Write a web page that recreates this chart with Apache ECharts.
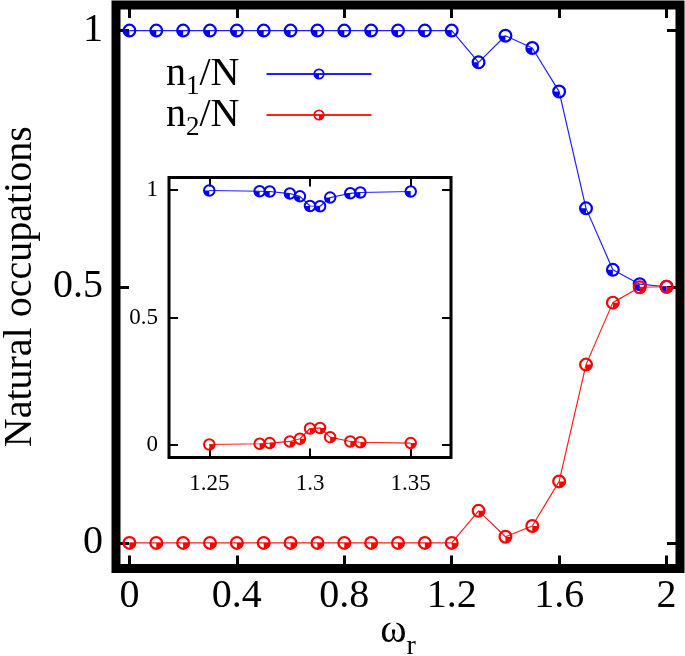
<!DOCTYPE html>
<html>
<head>
<meta charset="utf-8">
<script src="https://cdn.jsdelivr.net/npm/echarts@6/dist/echarts.min.js"></script>
<style>
html,body{margin:0;padding:0;background:#fff;}
#chart{width:685px;height:656px;}
</style>
</head>
<body>
<div id="chart"></div>
<script>
// ---- data ----
const omega = [0, 0.1, 0.2, 0.3, 0.4, 0.5, 0.6, 0.7, 0.8, 0.9, 1.0, 1.1, 1.2, 1.3, 1.4, 1.5, 1.6, 1.7, 1.8, 1.9, 2.0];
const n1 = [1, 1, 1, 1, 1, 1, 1, 1, 1, 1, 1, 1, 1, 0.938, 0.99, 0.966, 0.881, 0.653, 0.533, 0.505, 0.5];
const n2 = [0, 0, 0, 0, 0, 0, 0, 0, 0, 0, 0, 0, 0, 0.0625, 0.012, 0.033, 0.12, 0.348, 0.469, 0.499, 0.5];

const insetOmega = [1.25, 1.275, 1.28, 1.29, 1.295, 1.3, 1.305, 1.31, 1.32, 1.325, 1.35];
const insetN1 = [0.999, 0.996, 0.995, 0.987, 0.976, 0.938, 0.937, 0.971, 0.988, 0.991, 0.995];
const insetN2 = [0.001, 0.004, 0.0065, 0.013, 0.0235, 0.064, 0.066, 0.03, 0.013, 0.010, 0.0065];

const mainXTicks = [0, 0.4, 0.8, 1.2, 1.6, 2];
const mainYTicks = [0, 0.5, 1];
const insetXTicks = [1.25, 1.3, 1.35];
const insetYTicks = [0, 0.5, 1];

const seriesNames = ['n1/N', 'n2/N'];

// ---- styling helpers ----
const FONT = 'Liberation Serif';
const ring = 'M0 50 A50 50 0 1 1 100 50 A50 50 0 1 1 0 50 Z M16 50 A34 34 0 1 0 84 50 A34 34 0 1 0 16 50 Z';
const symBlue = 'path://' + ring + ' M50 50 L16 50 A34 34 0 0 0 50 84 Z';
const symRed = 'path://' + ring + ' M50 50 L50 84 A34 34 0 0 0 84 50 Z';

function pairs(xs, ys) { return xs.map((x, i) => [x, ys[i]]); }

function valAxis(opts) {
  const base = {
    type: 'value',
    splitLine: { show: false },
    axisLine: { show: false, onZero: false },
    axisTick: {
      show: true, inside: true, length: opts.tickLen, customValues: opts.ticks,
      lineStyle: { color: '#000', width: opts.tickW }
    },
    axisLabel: opts.labels ? {
      show: true, customValues: opts.ticks, fontFamily: FONT, fontSize: opts.fontSize,
      color: '#000', margin: opts.margin, formatter: v => String(v)
    } : { show: false }
  };
  return Object.assign(base, opts.extra || {});
}

const chart = echarts.init(document.getElementById('chart'), null, { renderer: 'canvas' });

const legendRich = {
  n: { fontFamily: FONT, fontSize: 40, color: '#000' },
  s: { fontFamily: FONT, fontSize: 27, color: '#000', padding: [25, 0, 0, 0] },
  g: { width: 22 }
};
function legendFmt(name) {
  const parts = name.split('/');
  return '{n|n}{s|' + parts[0].slice(1) + '}{n|/' + parts[1] + '}{g| }';
}

const option = {
  animation: false,
  textStyle: { fontFamily: FONT },
  grid: [
    { left: 116, top: 5, width: 564, height: 563.5, show: true, borderColor: '#000', borderWidth: 9,
      backgroundColor: 'transparent', outerBoundsMode: 'none', containLabel: false },
    { left: 169, top: 177.5, width: 282, height: 280, show: true, borderColor: '#000', borderWidth: 3,
      backgroundColor: '#fff', outerBoundsMode: 'none', containLabel: false }
  ],
  legend: [
    {
      data: [seriesNames[0]], left: 166, top: 54, padding: 0, orient: 'vertical', align: 'right',
      itemWidth: 105, itemHeight: 14, formatter: legendFmt, textStyle: { rich: legendRich }, selectedMode: false
    },
    {
      data: [seriesNames[1]], left: 166, top: 95, padding: 0, orient: 'vertical', align: 'right',
      itemWidth: 105, itemHeight: 14, formatter: legendFmt, textStyle: { rich: legendRich }, selectedMode: false
    }
  ],
  xAxis: [
    valAxis({ ticks: mainXTicks, tickLen: 13, tickW: 3, labels: true, fontSize: 40, margin: 8,
      extra: { gridIndex: 0, min: -0.05, max: 2.05, position: 'bottom',
        name: '{w|ω}{s|r}', nameLocation: 'middle', nameGap: 34, nameMoveOverlap: false,
        nameTextStyle: { rich: {
          w: { fontFamily: FONT, fontSize: 40, color: '#000' },
          s: { fontFamily: FONT, fontSize: 28, color: '#000', padding: [30, 0, 0, 0] }
        } } } }),
    valAxis({ ticks: mainXTicks, tickLen: 13, tickW: 3, labels: false,
      extra: { gridIndex: 0, min: -0.05, max: 2.05, position: 'top' } }),
    valAxis({ ticks: insetXTicks, tickLen: 9, tickW: 2, labels: true, fontSize: 23, margin: 15,
      extra: { gridIndex: 1, min: 1.23, max: 1.37, position: 'bottom' } }),
    valAxis({ ticks: insetXTicks, tickLen: 9, tickW: 2, labels: false,
      extra: { gridIndex: 1, min: 1.23, max: 1.37, position: 'top' } })
  ],
  yAxis: [
    valAxis({ ticks: mainYTicks, tickLen: 13, tickW: 3, labels: true, fontSize: 40, margin: 13,
      extra: { gridIndex: 0, min: -0.05, max: 1.05, position: 'left',
        name: 'Natural occupations', nameLocation: 'middle', nameGap: 76, nameMoveOverlap: false,
        nameTextStyle: { fontFamily: FONT, fontSize: 40, color: '#000' } } }),
    valAxis({ ticks: mainYTicks, tickLen: 13, tickW: 3, labels: false,
      extra: { gridIndex: 0, min: -0.05, max: 1.05, position: 'right' } }),
    valAxis({ ticks: insetYTicks, tickLen: 9, tickW: 2, labels: true, fontSize: 23, margin: 11,
      extra: { gridIndex: 1, min: -0.05, max: 1.05, position: 'left' } }),
    valAxis({ ticks: insetYTicks, tickLen: 9, tickW: 2, labels: false,
      extra: { gridIndex: 1, min: -0.05, max: 1.05, position: 'right' } })
  ],
  series: [
    { name: seriesNames[0], type: 'line', xAxisIndex: 0, yAxisIndex: 0, data: pairs(omega, n1),
      symbol: symBlue, symbolSize: 14, clip: false,
      lineStyle: { color: '#2020ff', width: 1.2 }, itemStyle: { color: '#0000ff' } },
    { name: seriesNames[1], type: 'line', xAxisIndex: 0, yAxisIndex: 0, data: pairs(omega, n2),
      symbol: symRed, symbolSize: 14, clip: false,
      lineStyle: { color: '#ff2020', width: 1.2 }, itemStyle: { color: '#ff0000' } },
    { name: 'inset n1', type: 'line', xAxisIndex: 2, yAxisIndex: 2, data: pairs(insetOmega, insetN1),
      symbol: symBlue, symbolSize: 12.5,
      lineStyle: { color: '#2020ff', width: 1.2 }, itemStyle: { color: '#0000ff' } },
    { name: 'inset n2', type: 'line', xAxisIndex: 2, yAxisIndex: 2, data: pairs(insetOmega, insetN2),
      symbol: symRed, symbolSize: 12.5,
      lineStyle: { color: '#ff2020', width: 1.2 }, itemStyle: { color: '#ff0000' } }
  ]
};
chart.setOption(option);
</script>
</body>
</html>
